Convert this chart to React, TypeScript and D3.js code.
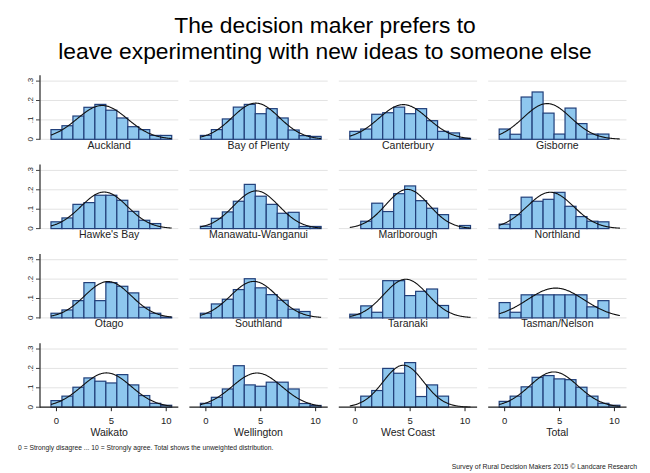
import React, { useRef, useEffect } from 'react';
import * as d3 from 'd3';

// Share of respondents at each score 0..10
const scores = [0, 1, 2, 3, 4, 5, 6, 7, 8, 9, 10];

const auckland = [0.05, 0.07, 0.12, 0.165, 0.18, 0.15, 0.11, 0.065, 0.05, 0.02, 0.02];
const bayOfPlenty = [0.02, 0.05, 0.105, 0.166, 0.18, 0.132, 0.158, 0.11, 0.048, 0.019, 0.015];
const canterbury = [0.041, 0.053, 0.129, 0.137, 0.166, 0.132, 0.158, 0.096, 0.041, 0.033, 0.005];
const gisborne = [0.053, 0.026, 0.218, 0.244, 0.135, 0.027, 0.161, 0.081, 0.027, 0.027, 0];
const hawkesBay = [0.035, 0.055, 0.125, 0.134, 0.172, 0.172, 0.146, 0.089, 0.043, 0.026, 0];
const manawatu = [0.012, 0.053, 0.086, 0.141, 0.228, 0.167, 0.125, 0.079, 0.084, 0.011, 0.011];
const marlborough = [0, 0.038, 0.131, 0.088, 0.18, 0.22, 0.144, 0.105, 0.072, 0, 0.016];
const northland = [0.023, 0.072, 0.162, 0.141, 0.151, 0.187, 0.115, 0.062, 0.038, 0.035, 0];
const otago = [0.024, 0.041, 0.089, 0.182, 0.089, 0.182, 0.163, 0.129, 0.055, 0.024, 0.004];
const southland = [0.024, 0.072, 0.096, 0.146, 0.202, 0.155, 0.12, 0.091, 0.045, 0.033, 0];
const taranaki = [0.019, 0.062, 0.029, 0.192, 0.192, 0.115, 0.137, 0.149, 0.064, 0, 0];
const tasmanNelson = [0.079, 0.029, 0.119, 0.119, 0.119, 0.119, 0.119, 0.119, 0.057, 0.089, 0];
const waikato = [0.034, 0.057, 0.103, 0.151, 0.134, 0.125, 0.168, 0.115, 0.06, 0.02, 0.01];
const wellington = [0.02, 0.051, 0.094, 0.214, 0.115, 0.108, 0.129, 0.129, 0.094, 0.019, 0.009];
const westCoast = [0, 0.057, 0.086, 0.2, 0.175, 0.23, 0.055, 0.115, 0.057, 0, 0];
const total = [0.03, 0.057, 0.105, 0.154, 0.163, 0.146, 0.142, 0.103, 0.057, 0.02, 0.01];

const regionNames = [
  'Auckland', 'Bay of Plenty', 'Canterbury', 'Gisborne',
  "Hawke's Bay", 'Manawatu-Wanganui', 'Marlborough', 'Northland',
  'Otago', 'Southland', 'Taranaki', 'Tasman/Nelson',
  'Waikato', 'Wellington', 'West Coast', 'Total',
];
const regionShares = [
  auckland, bayOfPlenty, canterbury, gisborne,
  hawkesBay, manawatu, marlborough, northland,
  otago, southland, taranaki, tasmanNelson,
  waikato, wellington, westCoast, total,
];

const yTicks = [0, 0.1, 0.2, 0.3];
const xTicks = [0, 5, 10];

const FONT = "'Liberation Sans', Arial, Helvetica, sans-serif";

const App: React.FC = () => {
  const svgRef = useRef<SVGSVGElement | null>(null);

  useEffect(() => {
    if (!svgRef.current) return;
    const svg = d3.select(svgRef.current);
    svg.selectAll('*').remove();

    svg.append('rect').attr('width', 650).attr('height', 473).attr('fill', '#fff');

    // Title (two lines)
    const titleLines = ['The decision maker prefers to', 'leave experimenting with new ideas to someone else'];
    svg
      .selectAll('text.title')
      .data(titleLines)
      .enter()
      .append('text')
      .attr('x', 325)
      .attr('y', (_, k) => (k === 0 ? 33 : 58.8))
      .attr('text-anchor', 'middle')
      .attr('font-family', FONT)
      .attr('font-size', 22.8)
      .attr('fill', '#000')
      .text(d => d);

    // Panel geometry
    const panelW = 138.3;
    const panelH = 64;
    const colLeft = (c: number) => 40 + c * 149.4;
    const rowZero = (r: number) => 139.3 + r * 89.3;

    const x = d3.scaleLinear().domain([-1.5, 11.1]).range([0, panelW]);
    const y = d3.scaleLinear().domain([0, 0.33]).range([panelH, 0]);

    const curveXs = d3.range(-0.5, 10.5001, 0.05);

    regionShares.forEach((shares, i) => {
      const col = i % 4;
      const row = Math.floor(i / 4);
      const g = svg
        .append('g')
        .attr('transform', `translate(${colLeft(col)},${rowZero(row) - panelH})`);

      // Gridlines
      g.selectAll('line.grid')
        .data(yTicks)
        .enter()
        .append('line')
        .attr('x1', 0)
        .attr('x2', panelW)
        .attr('y1', d => y(d))
        .attr('y2', d => y(d))
        .attr('stroke', '#e3e3e3')
        .attr('stroke-width', 1);

      // Bars
      g.selectAll('rect.bar')
        .data(scores.filter(s => shares[s] > 0))
        .enter()
        .append('rect')
        .attr('x', s => x(s - 0.5))
        .attr('y', s => y(shares[s]))
        .attr('width', x(1) - x(0))
        .attr('height', s => y(0) - y(shares[s]))
        .attr('fill', '#8ec7ee')
        .attr('stroke', '#213f7a')
        .attr('stroke-width', 1.2);

      // Normal curve from the distribution's mean and sd
      const sum = d3.sum(shares);
      const mean = d3.sum(scores, s => s * shares[s]) / sum;
      const variance = d3.sum(scores, s => (s - mean) ** 2 * shares[s]) / sum;
      const sd = Math.sqrt(variance);
      const density = (v: number) =>
        Math.exp(-((v - mean) ** 2) / (2 * variance)) / (sd * Math.sqrt(2 * Math.PI));
      const line = d3
        .line<number>()
        .x(v => x(v))
        .y(v => y(density(v)));
      g.append('path')
        .datum(curveXs)
        .attr('d', line)
        .attr('fill', 'none')
        .attr('stroke', '#111')
        .attr('stroke-width', 1.1);

      // Y axis on first column
      if (col === 0) {
        g.append('line')
          .attr('x1', 0)
          .attr('x2', 0)
          .attr('y1', 0)
          .attr('y2', y(0) + 0.5)
          .attr('stroke', '#444')
          .attr('stroke-width', 1.4);
        yTicks.forEach(t => {
          g.append('line')
            .attr('x1', -4)
            .attr('x2', 0)
            .attr('y1', y(t))
            .attr('y2', y(t))
            .attr('stroke', '#444')
            .attr('stroke-width', 1);
          g.append('text')
            .attr('transform', `translate(-7,${y(t)}) rotate(-90)`)
            .attr('text-anchor', 'middle')
            .attr('font-family', FONT)
            .attr('font-size', 8)
            .attr('fill', '#222')
            .text(t === 0 ? '0' : d3.format('.1f')(t).replace(/^0/, ''));
        });
      }

      const isBottom = row === 3;
      if (isBottom) {
        g.append('line')
          .attr('x1', 0)
          .attr('x2', panelW)
          .attr('y1', y(0))
          .attr('y2', y(0))
          .attr('stroke', '#222')
          .attr('stroke-width', 1.3);
        xTicks.forEach(t => {
          g.append('line')
            .attr('x1', x(t))
            .attr('x2', x(t))
            .attr('y1', y(0))
            .attr('y2', y(0) + 4)
            .attr('stroke', '#222')
            .attr('stroke-width', 1);
          g.append('text')
            .attr('x', x(t))
            .attr('y', y(0) + 16.5)
            .attr('text-anchor', 'middle')
            .attr('font-family', FONT)
            .attr('font-size', 9.5)
            .attr('fill', '#222')
            .text(String(t));
        });
      }

      g.append('text')
        .attr('x', panelW / 2)
        .attr('y', y(0) + (isBottom ? 28.5 : 9.5))
        .attr('text-anchor', 'middle')
        .attr('font-family', FONT)
        .attr('font-size', 10.5)
        .attr('fill', '#222')
        .text(regionNames[i]);
    });

    // Notes
    svg
      .append('text')
      .attr('x', 18)
      .attr('y', 450)
      .attr('font-family', FONT)
      .attr('font-size', 6.75)
      .attr('fill', '#222')
      .text('0 = Strongly disagree ... 10 = Strongly agree. Total shows the unweighted distribution.');
    svg
      .append('text')
      .attr('x', 637)
      .attr('y', 469)
      .attr('text-anchor', 'end')
      .attr('font-family', FONT)
      .attr('font-size', 6.85)
      .attr('fill', '#222')
      .text('Survey of Rural Decision Makers 2015 © Landcare Research');
  }, []);

  return (
    <svg
      ref={svgRef}
      width={650}
      height={473}
      style={{ position: 'absolute', left: 0, top: 0, display: 'block' }}
    />
  );
};

export default App;
